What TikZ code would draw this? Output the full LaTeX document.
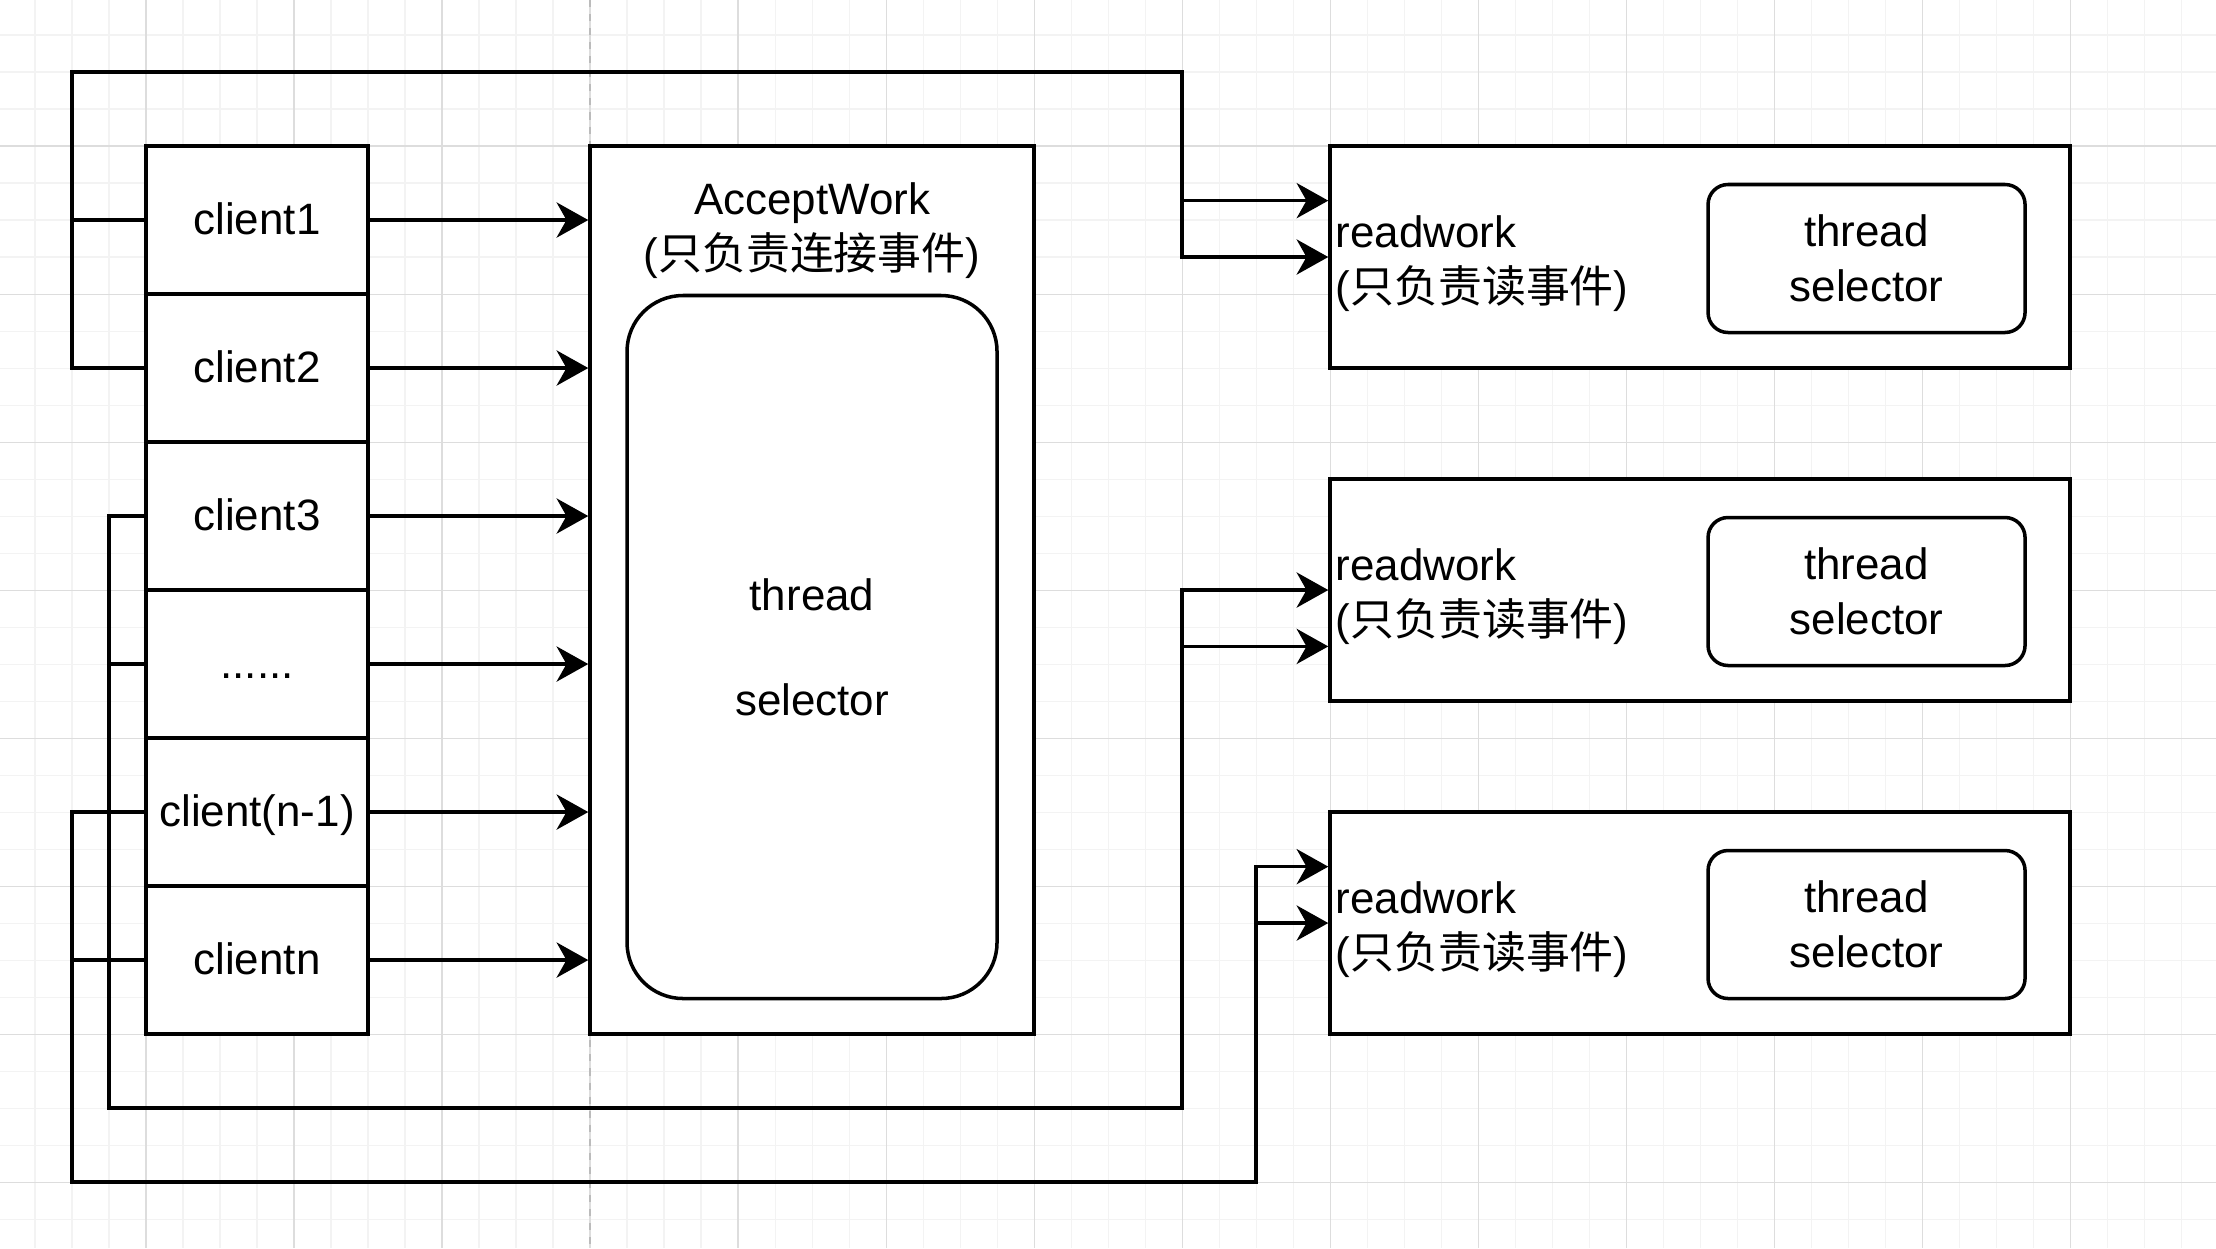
\documentclass[tikz,border=0pt]{standalone}
\usepackage{fontspec}
\setmainfont{Liberation Sans}
\newfontfamily\cjk{Noto Sans CJK SC}
\usetikzlibrary{positioning,calc,arrows.meta}

\definecolor{gridminor}{HTML}{F3F3F3}
\definecolor{gridmajor}{HTML}{DDDDDD}
\definecolor{pageline}{HTML}{BBBBBB}

\tikzset{
  box/.style={draw, fill=white, line width=1pt, inner sep=0pt, align=center},
  clientbox/.style={box, minimum width=2.22cm, minimum height=1.48cm, text height=11pt, text depth=2.5pt},
  workbox/.style={box, minimum width=7.4cm, minimum height=2.22cm},
  selbox/.style={box, rounded corners=0.2cm, minimum width=3.17cm, minimum height=1.48cm},
  txt/.style={inner sep=0pt},
  wire/.style={line width=1pt},
  arr/.style={wire, -{Stealth[length=9pt,width=10pt,inset=2.8pt]}},
  minorline/.style={draw=gridminor, line width=0.3pt},
  majorline/.style={draw=gridmajor, line width=0.3pt},
}

\begin{document}
\begin{tikzpicture}[x=1.48cm, y=-1.48cm, font=\fontsize{12.5}{15.6}\selectfont]
    % Canvas and grid
    \useasboundingbox (-0.9865,-0.9865) rectangle (13.986,7.446);
    \fill[white] (-0.9865,-0.9865) rectangle (13.986,7.446);
    \foreach \gx in {-0.75,-0.5,...,13.75} \draw[minorline] (\gx,-0.9865) -- (\gx,7.446);
    \foreach \gy in {-0.75,-0.5,...,7.25} \draw[minorline] (-0.9865,\gy) -- (13.986,\gy);
    \foreach \gx in {0,...,13} \draw[majorline] (\gx,-0.9865) -- (\gx,7.446);
    \foreach \gy in {0,...,7} \draw[majorline] (-0.9865,\gy) -- (13.986,\gy);
    \draw[pageline, line width=0.3pt, dash pattern=on 2pt off 2pt] (3,-0.9865) -- (3,7.446);

    % Clients
    \node[clientbox] (c1) at (0.75,0.5) {client1};
    \node[clientbox] (c2) at (0.75,1.5) {client2};
    \node[clientbox] (c3) at (0.75,2.5) {client3};
    \node[clientbox] (c4) at (0.75,3.5) {......};
    \node[clientbox] (c5) at (0.75,4.5) {client(n-1)};
    \node[clientbox] (c6) at (0.75,5.5) {clientn};

    % AcceptWork
    \node[box, minimum width=4.44cm, minimum height=8.88cm] (acc) at (4.5,3) {};
    \node[txt, align=center] (acctitle) at (4.5,0.57) {AcceptWork\\({\cjk 只负责连接事件})};
    \node[box, rounded corners=0.56cm, minimum width=3.7cm, minimum height=7.03cm,
          font=\fontsize{12.5}{14.9}\selectfont] (accsel) at (4.5,3.385) {thread\\\mbox{}\\selector};

    % Readwork
    \node[workbox] (rw1) at (10.5,0.75) {};
    \node[txt, anchor=west, align=left] (rw1txt) at ($(rw1.west)+(0.045,0.045)$) {readwork\\({\cjk 只负责读事件})};
    \node[selbox] (sel1) at (11.625,0.76) {thread\\selector};

    \node[workbox] (rw2) at (10.5,3.0) {};
    \node[txt, anchor=west, align=left] (rw2txt) at ($(rw2.west)+(0.045,0.045)$) {readwork\\({\cjk 只负责读事件})};
    \node[selbox] (sel2) at (11.625,3.01) {thread\\selector};

    \node[workbox] (rw3) at (10.5,5.25) {};
    \node[txt, anchor=west, align=left] (rw3txt) at ($(rw3.west)+(0.045,0.045)$) {readwork\\({\cjk 只负责读事件})};
    \node[selbox] (sel3) at (11.625,5.26) {thread\\selector};

    % Clients to AcceptWork
    \draw[arr] (c1.east) -- (c1.east -| acc.west);
    \draw[arr] (c2.east) -- (c2.east -| acc.west);
    \draw[arr] (c3.east) -- (c3.east -| acc.west);
    \draw[arr] (c4.east) -- (c4.east -| acc.west);
    \draw[arr] (c5.east) -- (c5.east -| acc.west);
    \draw[arr] (c6.east) -- (c6.east -| acc.west);

    % Loop to first readwork
    \coordinate (tl) at (-0.5,-0.5);
    \coordinate (tr) at (7,-0.5);
    \coordinate (rw1a) at ($(rw1.north west)!0.25!(rw1.south west)$);
    \draw[arr] (c2.west) -| (tl) -- (tr) |- (rw1.west);
    \draw[wire] (c1.west) -- (c1.west -| tl);
    \draw[arr] (rw1a -| tr) -- (rw1a);

    % Loop to second readwork
    \coordinate (ml) at (-0.25,6.5);
    \coordinate (mr) at (7,6.5);
    \coordinate (rw2b) at ($(rw2.north west)!0.75!(rw2.south west)$);
    \draw[arr] (c3.west) -| (ml) -- (mr) |- (rw2.west);
    \draw[wire] (c4.west) -- (c4.west -| ml);
    \draw[arr] (rw2b -| mr) -- (rw2b);

    % Loop to third readwork
    \coordinate (bl) at (-0.5,7);
    \coordinate (br) at (7.5,7);
    \coordinate (rw3a) at ($(rw3.north west)!0.25!(rw3.south west)$);
    \draw[arr] (c5.west) -| (bl) -- (br) |- (rw3a);
    \draw[wire] (c6.west) -- (c6.west -| bl);
    \draw[arr] (rw3.west -| br) -- (rw3.west);
\end{tikzpicture}
\end{document}
